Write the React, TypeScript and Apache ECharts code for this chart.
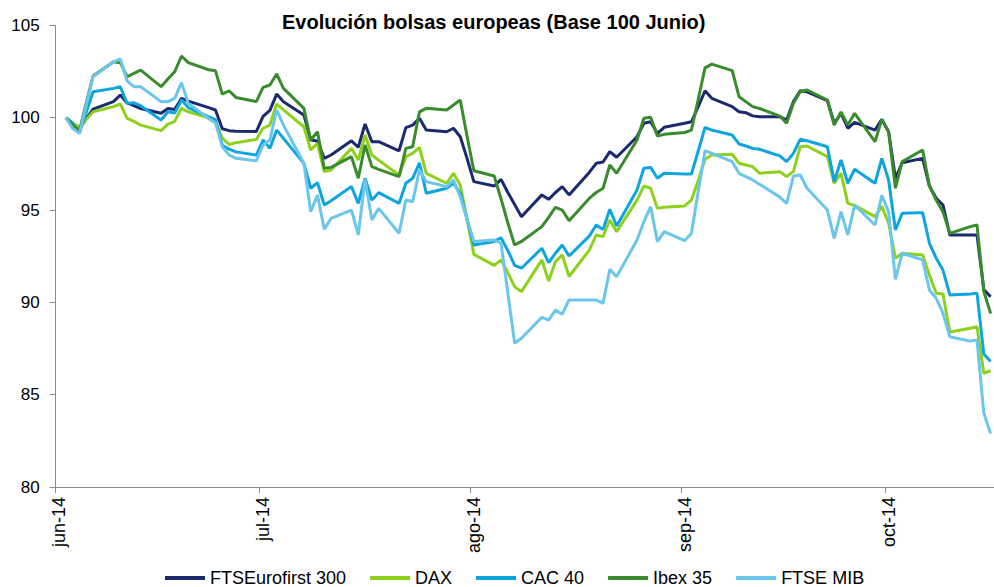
import React, { useEffect, useRef } from "react";
import * as echarts from "echarts";

// ---- Axis categories: every calendar day from 1 Jun 2014 to 16 Oct 2014 ----
const firstDay = Date.UTC(2014, 5, 1);
const dayCount = 138;
const monthLabels = ["ene", "feb", "mar", "abr", "may", "jun", "jul", "ago", "sep", "oct", "nov", "dic"];
const categories: string[] = [];
for (let i = 0; i < dayCount; i++) {
  categories.push(new Date(firstDay + i * 86400000).toISOString().slice(0, 10));
}
const firstTradingDay = "2014-06-02";

const seriesNames = ["FTSEurofirst 300", "DAX", "CAC 40", "Ibex 35", "FTSE MIB"];
const seriesColors = ["#1b2a6e", "#8dd11c", "#0ea5df", "#3a8b2e", "#6cc5ea"];

// ---- Values per trading day (base 100), grouped by month ----
const ftseurofirstJun = [100.0, 99.55, 99.43, 99.95, 100.47, 100.87, 101.23, 100.8, 100.65, 100.5, 100.24, 100.5, 100.45, 101.05, 100.9, 100.55, 100.42, 99.4, 99.3, 99.27, 99.25];
const ftseurofirstJul = [100.07, 100.4, 101.28, 100.87, 100.15, 98.79, 98.74, 97.8, 97.98, 98.75, 98.4, 99.66, 98.7, 98.7, 98.21, 99.46, 99.6, 99.97, 99.33, 99.24, 99.43, 98.97, 97.8];
const ftseurofirstAgo = [96.54, 96.3, 96.66, 95.95, 95.3, 94.64, 95.82, 95.58, 95.95, 96.27, 95.82, 97.05, 97.53, 97.6, 98.16, 97.86, 98.97, 99.7, 99.78, 99.15, 99.48];
const ftseurofirstSep = [99.7, 99.78, 100.6, 101.46, 101.05, 100.6, 100.32, 100.27, 100.1, 100.05, 100.05, 99.88, 100.87, 101.46, 101.4, 100.92, 99.7, 100.24, 99.43, 99.75, 99.33, 99.91];
const ftseurofirstOct = [99.24, 96.72, 97.56, 97.8, 96.3, 95.64, 95.27, 93.65, 93.65, 93.65, 90.7, 90.3];

const daxJun = [100.0, 99.7, 99.5, 99.9, 100.32, 100.6, 100.75, 99.97, 99.8, 99.6, 99.3, 99.65, 99.8, 100.51, 100.32, 100.0, 99.75, 98.9, 98.55, 98.65, 98.82];
const daxJul = [99.43, 99.6, 100.74, 100.42, 99.51, 98.25, 98.61, 97.08, 97.17, 98.34, 97.71, 99.06, 97.98, 97.7, 96.9, 97.89, 98.07, 98.4, 96.99, 96.45, 96.99, 96.36, 94.5];
const daxAgo = [92.6, 92.0, 92.3, 91.6, 90.85, 90.58, 92.3, 91.15, 92.2, 92.57, 91.4, 92.84, 93.65, 93.56, 94.46, 93.83, 95.54, 96.3, 96.18, 95.09, 95.15];
const daxSep = [95.22, 95.54, 96.6, 97.75, 97.98, 98.02, 97.53, 97.44, 97.35, 96.99, 97.08, 96.81, 97.08, 98.43, 98.47, 97.89, 96.45, 96.99, 95.36, 95.25, 94.64, 95.2];
const daxOct = [94.3, 92.39, 92.66, 92.57, 91.48, 90.49, 90.45, 88.4, 88.6, 88.68, 86.16, 86.3];

const cacJun = [100.0, 99.7, 99.19, 100.3, 101.41, 101.59, 101.68, 100.78, 100.81, 100.65, 99.88, 100.32, 100.25, 100.96, 100.55, 100.05, 99.9, 98.5, 98.3, 98.15, 97.98];
const cacJul = [98.79, 98.34, 99.33, 98.88, 97.53, 96.18, 96.48, 95.27, 95.5, 96.27, 95.36, 96.72, 95.54, 95.94, 95.36, 96.45, 96.72, 97.56, 95.91, 96.18, 96.45, 95.91, 94.5];
const cacAgo = [93.11, 93.3, 93.5, 92.8, 92.0, 91.85, 92.93, 92.15, 92.66, 93.11, 92.51, 93.6, 94.19, 93.95, 95.04, 94.14, 96.09, 97.26, 97.31, 96.72, 96.99];
const cacSep = [96.95, 96.95, 98.2, 99.48, 99.33, 99.06, 98.58, 98.47, 98.34, 98.29, 97.93, 97.62, 98.07, 98.83, 98.75, 98.43, 96.54, 97.71, 96.45, 97.21, 96.45, 97.8];
const cacOct = [96.63, 93.92, 94.82, 94.86, 93.2, 92.39, 91.75, 90.4, 90.45, 90.49, 87.2, 86.8];

const ibexJun = [100.0, 99.6, 99.3, 100.8, 102.26, 103.03, 102.98, 102.22, 102.4, 102.58, 101.68, 102.1, 102.49, 103.34, 102.98, 102.6, 102.54, 101.28, 101.46, 101.1, 100.87];
const ibexJul = [101.64, 101.77, 102.37, 101.59, 100.51, 98.79, 99.24, 97.26, 97.31, 97.89, 96.72, 98.52, 97.35, 97.2, 96.81, 98.34, 98.43, 100.32, 100.51, 100.42, 100.69, 100.96, 99.0];
const ibexAgo = [97.13, 96.84, 95.6, 94.3, 93.11, 93.3, 94.1, 94.6, 95.15, 95.0, 94.42, 95.64, 95.95, 96.18, 97.44, 96.99, 98.79, 99.97, 100.02, 99.01, 99.1];
const ibexSep = [99.2, 99.33, 101.0, 102.7, 102.9, 102.55, 101.14, 100.87, 100.6, 100.5, 100.09, 99.7, 100.78, 101.41, 101.5, 100.96, 99.6, 100.32, 99.6, 100.24, 98.7, 99.91];
const ibexOct = [99.24, 96.18, 97.62, 98.25, 96.3, 95.54, 94.9, 93.74, 94.1, 94.19, 90.6, 89.4];

const mibJun = [100.0, 99.42, 99.15, 100.7, 102.22, 103.03, 103.18, 102.0, 101.68, 101.68, 100.87, 100.87, 101.05, 101.9, 100.78, 99.95, 99.73, 98.43, 97.98, 97.8, 97.67];
const mibJul = [98.52, 98.79, 100.42, 99.6, 97.53, 94.91, 95.81, 93.96, 94.55, 95.0, 93.65, 96.66, 94.46, 95.09, 93.74, 95.54, 95.45, 97.17, 96.54, 96.27, 96.63, 95.72, 94.5];
const mibAgo = [93.3, 93.38, 93.2, 90.5, 87.79, 88.06, 89.19, 89.04, 89.58, 89.36, 90.13, 90.13, 90.13, 89.95, 91.79, 91.39, 93.38, 94.37, 95.18, 93.29, 93.83];
const mibSep = [93.34, 93.74, 96.0, 98.21, 98.07, 97.62, 96.99, 96.81, 96.63, 96.4, 95.7, 95.36, 96.84, 96.9, 96.18, 95.0, 93.47, 94.91, 93.65, 95.27, 94.19, 95.8];
const mibOct = [94.91, 91.25, 92.66, 92.3, 90.67, 90.22, 89.41, 88.14, 87.9, 87.96, 84.0, 82.9];

const seriesValues = [
  [...ftseurofirstJun, ...ftseurofirstJul, ...ftseurofirstAgo, ...ftseurofirstSep, ...ftseurofirstOct],
  [...daxJun, ...daxJul, ...daxAgo, ...daxSep, ...daxOct],
  [...cacJun, ...cacJul, ...cacAgo, ...cacSep, ...cacOct],
  [...ibexJun, ...ibexJul, ...ibexAgo, ...ibexSep, ...ibexOct],
  [...mibJun, ...mibJul, ...mibAgo, ...mibSep, ...mibOct],
];

// place trading-day values on the calendar-day axis (weekends empty)
function toCalendar(values: number[]): (number | null)[] {
  const out: (number | null)[] = [];
  let k = 0;
  for (const c of categories) {
    const wd = new Date(c + "T00:00:00Z").getUTCDay();
    if (c >= firstTradingDay && wd !== 0 && wd !== 6 && k < values.length) {
      out.push(values[k++]);
    } else {
      out.push(null);
    }
  }
  return out;
}

const isMonthStart = (_i: number, v: string) => v.slice(8, 10) === "01";
const FONT = "'Liberation Sans', Arial, sans-serif";
const AXIS_GRAY = "#8c8c8c";

export default function App() {
  const ref = useRef<HTMLDivElement>(null);
  useEffect(() => {
    if (!ref.current) return;
    const chart = echarts.init(ref.current, undefined, { renderer: "svg" });
    chart.setOption({
      animation: false,
      backgroundColor: "#ffffff",
      textStyle: { fontFamily: FONT },
      title: {
        text: "Evolución bolsas europeas (Base 100 Junio)",
        left: 277,
        top: 7,
        textStyle: { fontFamily: FONT, fontSize: 20, fontWeight: "bold", color: "#000000" },
      },
      legend: {
        left: 160,
        top: 564,
        itemWidth: 40,
        itemHeight: 4,
        itemGap: 24,
        icon: "rect",
        textStyle: { fontFamily: FONT, fontSize: 18, lineHeight: 18, color: "#000000" },
        data: seriesNames,
      },
      grid: { left: 55.7, top: 25.4, width: 941.2, height: 461.6 },
      xAxis: {
        type: "category",
        data: categories,
        boundaryGap: true,
        axisLine: { lineStyle: { color: AXIS_GRAY, width: 1 } },
        axisTick: { show: true, interval: isMonthStart, length: 6, lineStyle: { color: AXIS_GRAY } },
        axisLabel: {
          interval: isMonthStart,
          rotate: 90,
          margin: 10,
          fontFamily: FONT,
          fontSize: 18,
          color: "#000000",
          formatter: (v: string) => monthLabels[parseInt(v.slice(5, 7), 10) - 1] + "-" + v.slice(2, 4),
        },
        splitLine: { show: false },
      },
      yAxis: {
        type: "value",
        min: 80,
        max: 105,
        interval: 5,
        axisLine: { show: true, lineStyle: { color: AXIS_GRAY, width: 1 } },
        axisTick: { show: true, length: 6, lineStyle: { color: AXIS_GRAY } },
        axisLabel: { margin: 16, fontFamily: FONT, fontSize: 17, color: "#000000" },
        splitLine: { show: false },
      },
      series: seriesNames.map((name, i) => ({
        name,
        type: "line",
        data: toCalendar(seriesValues[i]),
        connectNulls: true,
        showSymbol: false,
        symbol: "none",
        color: seriesColors[i],
        lineStyle: { width: 3, color: seriesColors[i] },
      })),
    });
    return () => chart.dispose();
  }, []);
  return (
    <div
      ref={ref}
      style={{ position: "absolute", left: 0, top: 0, width: 994, height: 587, background: "#fff" }}
    />
  );
}
